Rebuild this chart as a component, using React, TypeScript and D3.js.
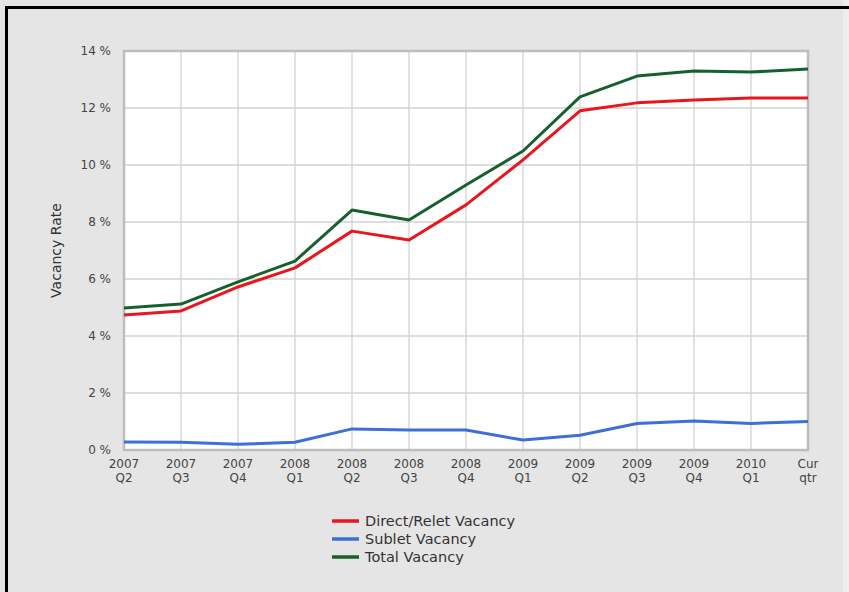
import React from "react";
import * as d3 from "d3";

const quarters = [
  ["2007", "Q2"], ["2007", "Q3"], ["2007", "Q4"], ["2008", "Q1"], ["2008", "Q2"],
  ["2008", "Q3"], ["2008", "Q4"], ["2009", "Q1"], ["2009", "Q2"], ["2009", "Q3"],
  ["2009", "Q4"], ["2010", "Q1"], ["Cur", "qtr"],
];
const directVacancy = [4.74, 4.88, 5.72, 6.39, 7.68, 7.37, 8.6, 10.18, 11.9, 12.18, 12.28, 12.35, 12.35];
const subletVacancy = [0.28, 0.27, 0.2, 0.27, 0.74, 0.7, 0.7, 0.35, 0.52, 0.93, 1.02, 0.93, 1.0];
const totalVacancy = [4.98, 5.12, 5.9, 6.63, 8.42, 8.07, 9.3, 10.49, 12.39, 13.12, 13.3, 13.26, 13.37];
const yTicks = [0, 2, 4, 6, 8, 10, 12, 14];

const series = [
  { name: "Direct/Relet Vacancy", values: directVacancy, color: "#e8161d" },
  { name: "Sublet Vacancy", values: subletVacancy, color: "#3d6fd6" },
  { name: "Total Vacancy", values: totalVacancy, color: "#17602e" },
];

const W = 849;
const H = 592;
const plot = { left: 124, right: 808, top: 51, bottom: 450 };

export default function App() {
  const x = d3
    .scalePoint<number>()
    .domain(quarters.map((_, i) => i))
    .range([plot.left, plot.right]);
  const y = d3.scaleLinear().domain([0, 14]).range([plot.bottom, plot.top]);

  const line = d3
    .line<number>()
    .x((_, i) => x(i) as number)
    .y((d) => y(d));

  const font = "'DejaVu Sans', Verdana, sans-serif";

  return (
    <svg
      width={W}
      height={H}
      style={{ position: "absolute", left: 0, top: 0, fontFamily: font }}
    >
      <rect x={0} y={0} width={W} height={H} fill="#e5e5e5" />
      <rect x={843} y={0} width={6} height={H} fill="#eeeeee" />
      {/* black frame, top and left */}
      <rect x={5} y={6} width={W - 5} height={3} fill="#000" />
      <rect x={5} y={6} width={3} height={H - 6} fill="#000" />

      {/* plot area */}
      <rect
        x={plot.left}
        y={plot.top}
        width={plot.right - plot.left}
        height={plot.bottom - plot.top}
        fill="#fff"
      />
      {quarters.map((_, i) => (
        <line
          key={"gx" + i}
          x1={x(i)}
          x2={x(i)}
          y1={plot.top}
          y2={plot.bottom}
          stroke="#d2d2d2"
          strokeWidth={1.3}
        />
      ))}
      {yTicks.map((t) => (
        <line
          key={"gy" + t}
          x1={plot.left}
          x2={plot.right}
          y1={y(t)}
          y2={y(t)}
          stroke="#d2d2d2"
          strokeWidth={1.3}
        />
      ))}
      <rect
        x={plot.left}
        y={plot.top}
        width={plot.right - plot.left}
        height={plot.bottom - plot.top}
        fill="none"
        stroke="#bdbdbd"
        strokeWidth={2.5}
      />

      {/* y axis labels */}
      {yTicks.map((t) => (
        <text
          key={"yl" + t}
          x={111}
          y={y(t)}
          dy="0.35em"
          textAnchor="end"
          fontSize={12}
          fill="#444"
        >
          {t} %
        </text>
      ))}
      <text
        transform={`translate(61, ${(plot.top + plot.bottom) / 2}) rotate(-90)`}
        textAnchor="middle"
        fontSize={14}
        fill="#333"
      >
        Vacancy Rate
      </text>

      {/* x axis labels, two lines each */}
      {quarters.map((q, i) => (
        <g key={"xl" + i}>
          <text x={x(i)} y={468} textAnchor="middle" fontSize={12} fill="#444">
            {q[0]}
          </text>
          <text x={x(i)} y={482} textAnchor="middle" fontSize={12} fill="#444">
            {q[1]}
          </text>
        </g>
      ))}

      {/* series */}
      {series.map((s) => (
        <path
          key={s.name}
          d={line(s.values) || ""}
          fill="none"
          stroke={s.color}
          strokeWidth={3}
          strokeLinejoin="round"
        />
      ))}

      {/* legend */}
      {series.map((s, i) => (
        <g key={"lg" + s.name} transform={`translate(332, ${521 + i * 18})`}>
          <line x1={0} x2={27} y1={0} y2={0} stroke={s.color} strokeWidth={3.5} />
          <text x={33} y={0} dy="0.35em" fontSize={14.5} fill="#333">
            {s.name}
          </text>
        </g>
      ))}
    </svg>
  );
}
